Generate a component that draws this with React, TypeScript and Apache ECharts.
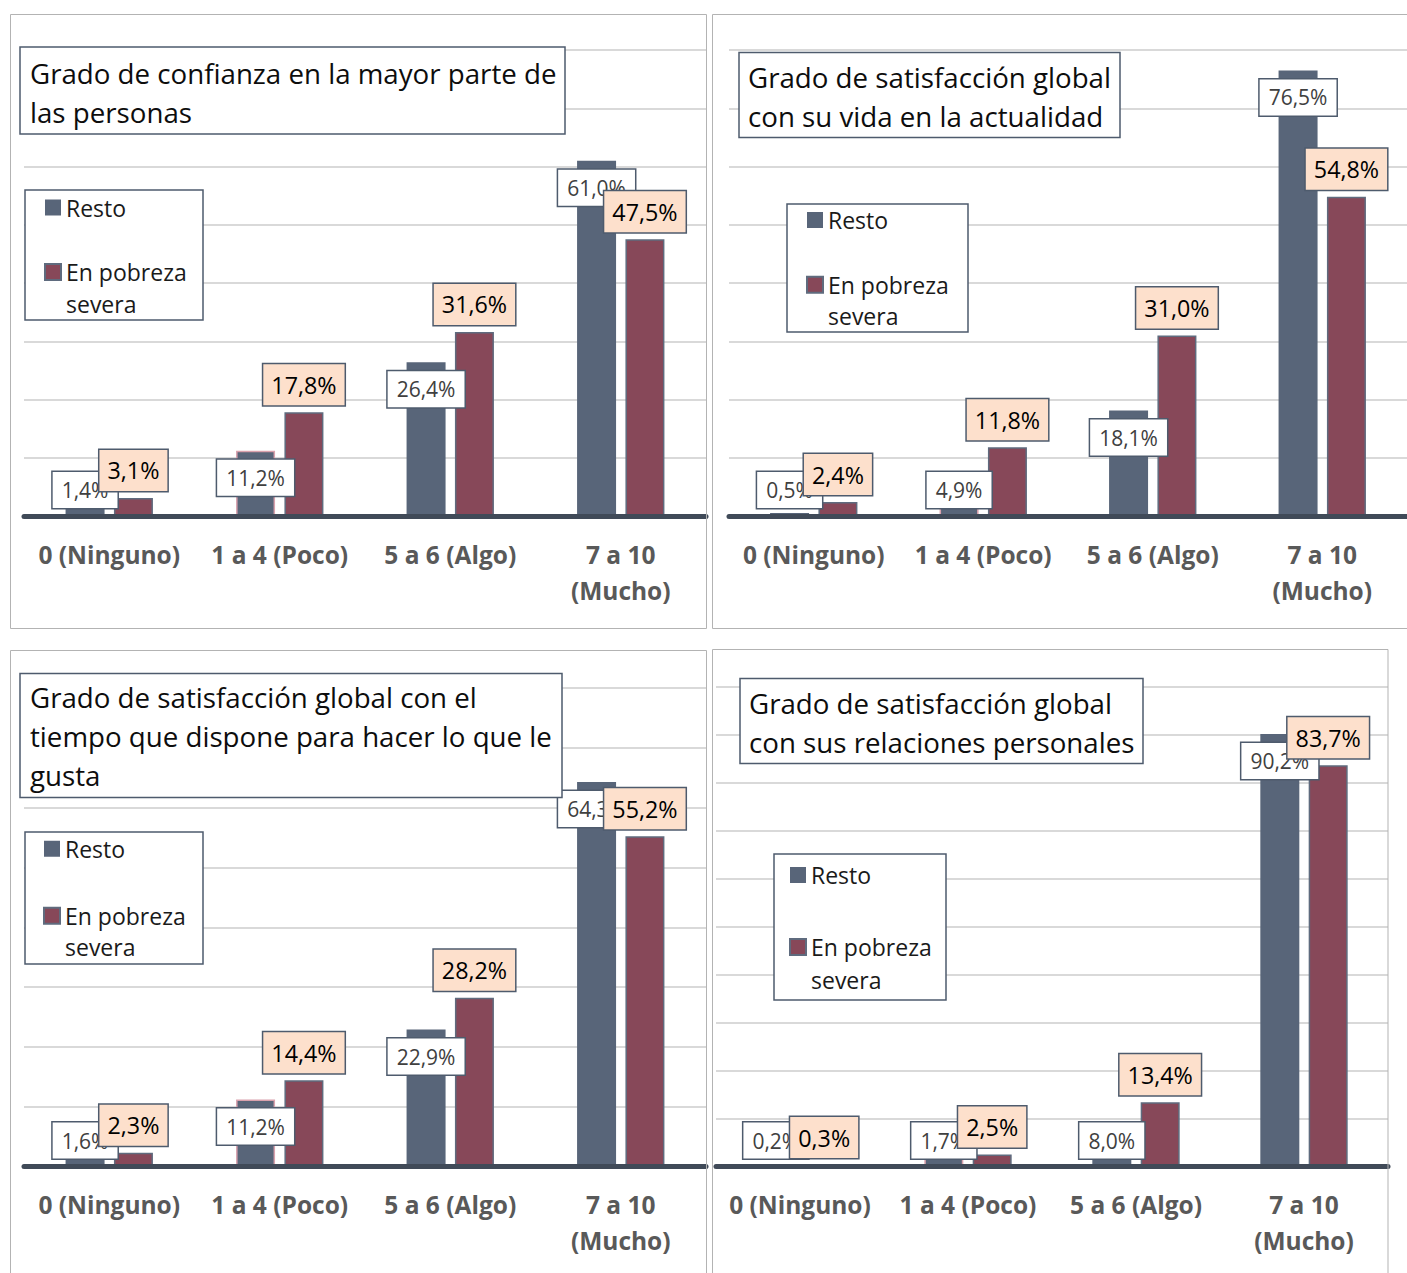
import { useEffect, useRef } from 'react';
import * as echarts from 'echarts';

const categories = ['0 (Ninguno)', '1 a 4 (Poco)', '5 a 6 (Algo)', '7 a 10\n(Mucho)'];
const seriesNames = ['Resto', 'En pobreza severa'];
const titles = [
  'Grado de confianza en la mayor parte de\nlas personas',
  'Grado de satisfacción global\ncon su vida en la actualidad',
  'Grado de satisfacción global con el\ntiempo que dispone para hacer lo que le\ngusta',
  'Grado de satisfacción global\ncon sus relaciones personales',
];
const confianzaResto = [1.4, 11.2, 26.4, 61.0];
const confianzaPobreza = [3.1, 17.8, 31.6, 47.5];
const vidaResto = [0.5, 4.9, 18.1, 76.5];
const vidaPobreza = [2.4, 11.8, 31.0, 54.8];
const tiempoResto = [1.6, 11.2, 22.9, 64.3];
const tiempoPobreza = [2.3, 14.4, 28.2, 55.2];
const relacionesResto = [0.2, 1.7, 8.0, 90.2];
const relacionesPobreza = [0.3, 2.5, 13.4, 83.7];
const axisMax = [80, 80, 80, 100];
const axisInterval = 10;

const restoSets = [confianzaResto, vidaResto, tiempoResto, relacionesResto];
const pobrezaSets = [confianzaPobreza, vidaPobreza, tiempoPobreza, relacionesPobreza];

const RESTO = '#586579';
const POBREZA = '#874859';
const BOX_BORDER = '#4e5b6d';
const FONT = '"Open Sans", "Noto Sans", sans-serif';

const panels = [
  {
    border: [10.5, 14.5, 696, 614],
    grid: { left: 24, top: 50, width: 682, height: 466 },
    title: { left: 20, top: 47, width: 526, pad: [6, 9, 3, 10] },
    legend: { left: 25, top: 190, L: 32, gap: 0.5, pad: [1.5, 12, 0, 19], w: 125 },
  },
  {
    border: [712.5, 14.5, 720, 614],
    grid: { left: 729, top: 50, width: 688, height: 466 },
    title: { left: 739, top: 52, width: 362, pad: [5.5, 9, 2.5, 9] },
    legend: { left: 787, top: 204, L: 31.5, gap: 1.7, pad: [0.25, 15, 0, 19], w: 125 },
  },
  {
    border: [10.5, 650.5, 696, 660],
    grid: { left: 24, top: 688, width: 682, height: 478.5 },
    title: { left: 20, top: 673, width: 523, pad: [4.5, 9, 3.5, 10] },
    legend: { left: 25, top: 832, L: 31.5, gap: 4, pad: [1, 13, 1, 18], w: 125 },
  },
  {
    border: [712.5, 649.5, 675.5, 660],
    grid: { left: 716, top: 687, width: 672, height: 479.5 },
    title: { left: 740, top: 678, width: 382, pad: [5.5, 9, 2.5, 9] },
    legend: { left: 774, top: 854, L: 33, gap: 6, pad: [4.5, 10, 3.5, 15], w: 125 },
  },
];

const fmt = (v: number) => v.toFixed(1).replace('.', ',') + '%';

function buildOption() {
  const grid: any[] = [];
  const xAxis: any[] = [];
  const yAxis: any[] = [];
  const series: any[] = [];
  const title: any[] = [];
  const legend: any[] = [];
  const graphic: any[] = [];

  panels.forEach((p, i) => {
    grid.push({ ...p.grid });
    xAxis.push({
      type: 'category',
      gridIndex: i,
      data: categories,
      z: 3,
      axisTick: { show: false },
      axisLine: { lineStyle: { color: '#404a58', width: 5 } },
      axisLabel: {
        interval: 0,
        margin: 20,
        color: '#595959',
        fontWeight: 'bold',
        fontSize: 24.5,
        lineHeight: 36,
        fontFamily: FONT,
      },
    });
    yAxis.push({
      type: 'value',
      gridIndex: i,
      min: 0,
      max: axisMax[i],
      interval: axisInterval,
      axisLabel: { show: false },
      axisLine: { show: false },
      axisTick: { show: false },
      splitLine: { lineStyle: { color: '#d9d9d9', width: 2 } },
    });
    const pxPerUnit = p.grid.height / axisMax[i];
    series.push({
      type: 'bar',
      name: seriesNames[0],
      xAxisIndex: i,
      yAxisIndex: i,
      barWidth: 39,
      barGap: '24%',
      itemStyle: { color: RESTO },
      label: {
        show: true,
        formatter: (d: any) => fmt(d.value),
        color: '#404040',
        fontSize: 21,
        lineHeight: 24,
        fontFamily: FONT,
        backgroundColor: '#ffffff',
        borderColor: BOX_BORDER,
        borderWidth: 1.5,
        padding: [6, 9],
      },
      data: restoSets[i].map((v, k) => ({
        value: v,
        itemStyle: k === 1 ? { borderColor: '#d9a1ad', borderWidth: 1.5 } : undefined,
        label: v * pxPerUnit < 53
          ? { position: 'insideBottom', distance: 8 }
          : { position: 'insideTop', distance: 9 },
      })),
    });
    series.push({
      type: 'bar',
      name: seriesNames[1],
      xAxisIndex: i,
      yAxisIndex: i,
      barWidth: 39,
      barGap: '24%',
      itemStyle: { color: POBREZA, borderColor: '#5f6b7e', borderWidth: 1.5 },
      label: {
        show: true,
        position: 'top',
        distance: 7,
        formatter: (d: any) => fmt(d.value),
        color: '#000000',
        fontSize: 23.3,
        lineHeight: 27,
        fontFamily: FONT,
        backgroundColor: '#fde0cc',
        borderColor: BOX_BORDER,
        borderWidth: 1.5,
        padding: [7, 8],
      },
      data: pobrezaSets[i],
    });
    title.push({
      text: titles[i],
      left: p.title.left,
      top: p.title.top,
      padding: p.title.pad,
      backgroundColor: '#ffffff',
      borderColor: BOX_BORDER,
      borderWidth: 1.5,
      textStyle: {
        fontFamily: FONT,
        fontSize: 27.7,
        fontWeight: 'normal',
        color: '#0d0d0d',
        lineHeight: 39,
        width: p.title.width,
      },
    });
    const L = p.legend.L;
    legend.push({
      left: p.legend.left,
      top: p.legend.top,
      orient: 'vertical',
      icon: 'rect',
      itemWidth: 16,
      itemHeight: 16,
      itemGap: p.legend.gap,
      padding: p.legend.pad,
      selectedMode: false,
      backgroundColor: '#ffffff',
      borderColor: BOX_BORDER,
      borderWidth: 1.5,
      textStyle: { fontFamily: FONT, fontSize: 23, color: '#1a1a1a', lineHeight: L, width: p.legend.w },
      formatter: (n: string) => (n === seriesNames[1] ? '\nEn pobreza\nsevera' : n),
      data: [{ name: seriesNames[0] }, { name: seriesNames[1] }],
    });
    graphic.push({
      type: 'rect',
      silent: true,
      z: 100,
      shape: { x: p.border[0], y: p.border[1], width: p.border[2], height: p.border[3] },
      style: { fill: 'none', stroke: '#b3b3b3', lineWidth: 1 },
    });
  });

  return {
    animation: false,
    backgroundColor: '#ffffff',
    textStyle: { fontFamily: FONT },
    grid,
    xAxis,
    yAxis,
    series,
    title,
    legend,
    graphic,
  };
}

export default function App() {
  const ref = useRef<HTMLDivElement>(null);
  useEffect(() => {
    if (!ref.current) return;
    const chart = echarts.init(ref.current, undefined, { renderer: 'svg' });
    chart.setOption(buildOption() as any);
    return () => chart.dispose();
  }, []);
  return (
    <div
      ref={ref}
      style={{ position: 'absolute', left: 0, top: 0, width: 1407, height: 1273, overflow: 'hidden' }}
    />
  );
}
